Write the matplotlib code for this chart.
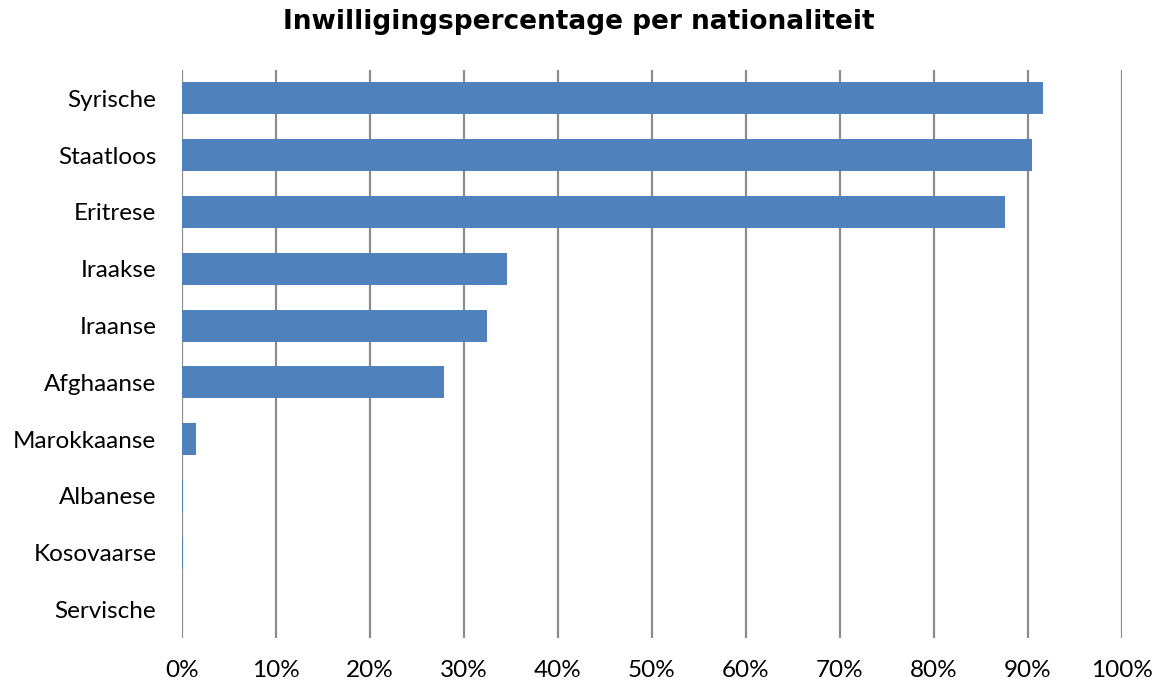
import matplotlib
matplotlib.use("Agg")
import matplotlib.pyplot as plt
from matplotlib.ticker import FuncFormatter

categories = ["Syrische", "Staatloos", "Eritrese", "Iraakse", "Iraanse",
              "Afghaanse", "Marokkaanse", "Albanese", "Kosovaarse", "Servische"]
values = [91.6, 90.4, 87.5, 34.6, 32.4, 27.9, 1.5, 0.15, 0.1, 0.0]
xticks = list(range(0, 101, 10))
title = "Inwilligingspercentage per nationaliteit"

fig = plt.figure(figsize=(11.58, 6.86), dpi=100)
ax = fig.add_axes([182/1158, 1-638/686, (1122-182)/1158, (638-70)/686])

ax.set_axisbelow(True)
for x in xticks:
    ax.axvline(x, color="#8c8c8c", lw=1.6, zorder=0)

ypos = list(range(len(categories)))
ax.barh(ypos, values, height=0.56, color="#4F81BD", edgecolor="none",
        linewidth=0, zorder=2)

ax.set_xlim(0, 100)
ax.set_ylim(len(categories) - 0.5, -0.5)
ax.set_yticks(ypos)
ax.set_yticklabels(categories, fontsize=17.5, family="Lato")
ax.set_xticks(xticks)
ax.xaxis.set_major_formatter(FuncFormatter(lambda v, p: f"{int(v)}%"))
for lab in ax.get_xticklabels():
    lab.set_fontsize(17.5)
    lab.set_family("Lato")
ax.tick_params(axis="both", length=0)
ax.tick_params(axis="x", pad=16)
ax.tick_params(axis="y", pad=18.5)
for s in ax.spines.values():
    s.set_visible(False)

fig.text(0.5, 1-22/686, title, ha="center", va="center", fontsize=19,
         fontweight="bold", family="DejaVu Sans")

fig.savefig("out.png", dpi=100)
